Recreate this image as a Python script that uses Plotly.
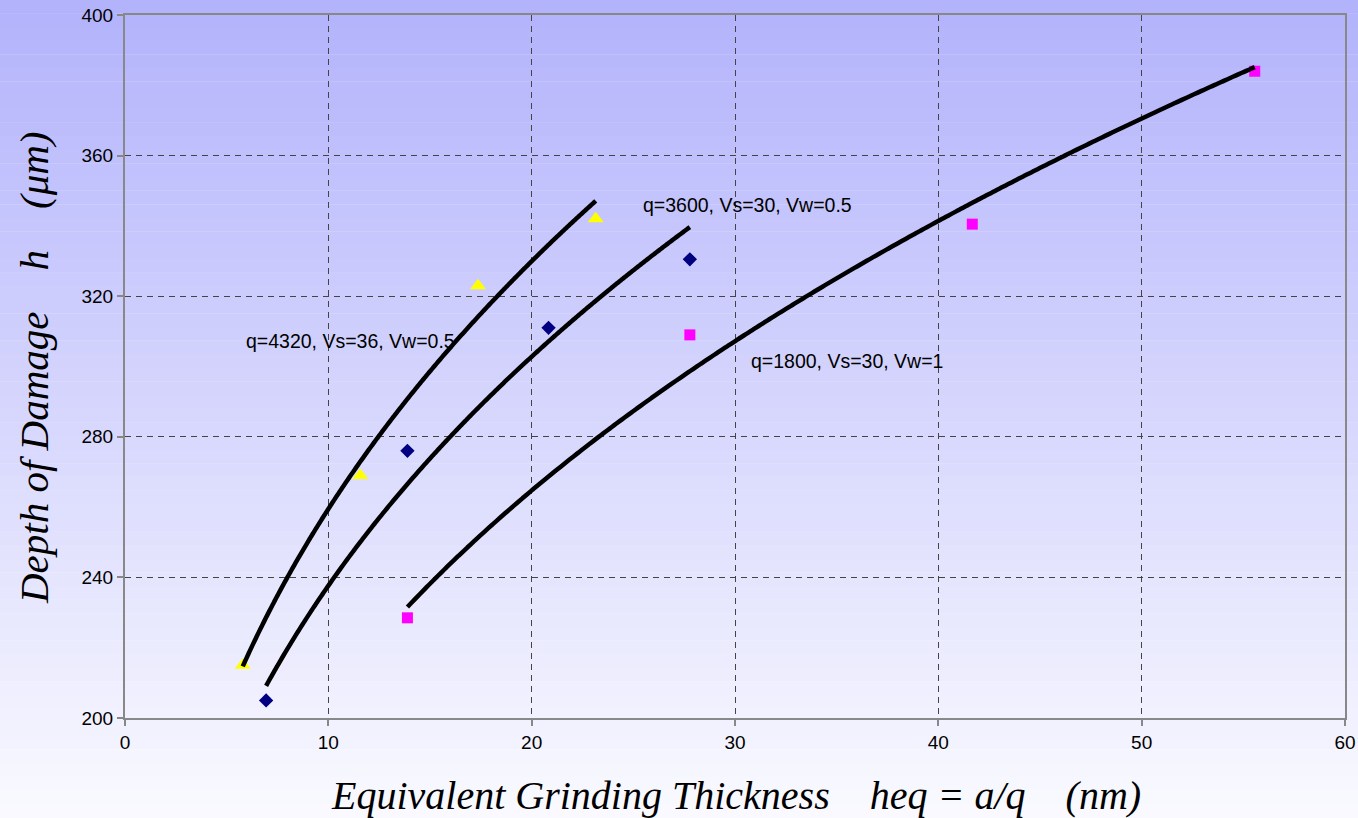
import numpy as np
import plotly.graph_objects as go

# Equivalent grinding thickness heq (nm) and depth of damage h (um)
heq_q4320 = [5.79, 11.57, 17.36, 23.15]
dmg_q4320 = [215.0, 269.0, 323.0, 342.0]

heq_q3600 = [6.94, 13.89, 20.83, 27.78]
dmg_q3600 = [205.0, 276.0, 311.0, 330.5]

heq_q1800 = [13.89, 27.78, 41.67, 55.56]
dmg_q1800 = [228.5, 309.0, 340.5, 384.0]

series_labels = ["q=4320, Vs=36, Vw=0.5", "q=3600, Vs=30, Vw=0.5", "q=1800, Vs=30, Vw=1"]

x_ticks = [0, 10, 20, 30, 40, 50, 60]
y_ticks = [200, 240, 280, 320, 360, 400]

W, H = 1358, 818
ML, MR, MT, MB = 125, 13, 15, 100
PW, PH = W - ML - MR, H - MT - MB

fig = go.Figure()


def power_fit(x, y, n=200):
    """Least-squares power trendline y = a * x^b between the first and last x."""
    lx, ly = np.log(x), np.log(y)
    b, la = np.polyfit(lx, ly, 1)
    xs = np.linspace(min(x), max(x), n)
    return xs, np.exp(la) * xs ** b


marker_styles = [
    dict(symbol="triangle-up", size=14, color="#FFFF00"),
    dict(symbol="diamond", size=11, color="#000080"),
    dict(symbol="square", size=11, color="#FF00FF"),
]
data = [(heq_q4320, dmg_q4320), (heq_q3600, dmg_q3600), (heq_q1800, dmg_q1800)]

for (xv, yv), ms in zip(data, marker_styles):
    fig.add_trace(go.Scatter(x=xv, y=yv, mode="markers",
                             marker=dict(line=dict(width=0), **ms),
                             showlegend=False, hoverinfo="x+y"))

for xv, yv in data:
    xs, ys = power_fit(np.array(xv), np.array(yv))
    fig.add_trace(go.Scatter(x=xs, y=ys, mode="lines",
                             line=dict(color="black", width=4.5, shape="spline"),
                             showlegend=False, hoverinfo="skip"))

# Vertical background gradient across the whole figure, built from bands
shapes = []
top_rgb = np.array([178, 178, 252])
bot_rgb = np.array([250, 250, 255])
n_bands = 60
for i in range(n_bands):
    p0 = i * H / n_bands
    p1 = (i + 1) * H / n_bands
    t = (i + 0.5) / n_bands
    c = (top_rgb + (bot_rgb - top_rgb) * t).round().astype(int)
    shapes.append(dict(type="rect", xref="paper", yref="paper", layer="below",
                       x0=-ML / PW - 0.01, x1=1 + MR / PW + 0.01,
                       y0=(H - MB - p1) / PH, y1=(H - MB - p0) / PH + 0.0005,
                       line=dict(width=0),
                       fillcolor=f"rgb({c[0]},{c[1]},{c[2]})"))

serif = "Liberation Serif"
sans = "Liberation Sans"
nb = "\u00a0"

annotations = [
    dict(x=11.07, y=307.3, xref="x", yref="y", text=series_labels[0], showarrow=False,
         font=dict(family=sans, size=19.5, color="black"), xanchor="center", yanchor="middle"),
    dict(x=30.6, y=346.0, xref="x", yref="y", text=series_labels[1], showarrow=False,
         font=dict(family=sans, size=19.5, color="black"), xanchor="center", yanchor="middle"),
    dict(x=35.5, y=301.6, xref="x", yref="y", text=series_labels[2], showarrow=False,
         font=dict(family=sans, size=19.5, color="black"), xanchor="center", yanchor="middle"),
    dict(x=(736 - ML) / PW, y=(H - MB - 795) / PH, xref="paper", yref="paper",
         text=f"<i>Equivalent Grinding Thickness{nb*4}heq = a/q{nb*4}(nm)</i>", showarrow=False,
         font=dict(family=serif, size=40, color="black"),
         xanchor="center", yanchor="middle"),
    dict(x=(34 - ML) / PW, y=(H - MB - 368) / PH, xref="paper", yref="paper",
         text=f"<i>Depth of Damage{nb*4}h{nb*4}(\u03bcm)</i>", showarrow=False, textangle=-90,
         font=dict(family=serif, size=41, color="black"),
         xanchor="center", yanchor="middle"),
]

axis_common = dict(
    showline=True, linecolor="#888888", linewidth=2, mirror=True,
    ticks="outside", ticklen=6, tickwidth=2, tickcolor="#888888",
    showgrid=True, gridcolor="#444444", gridwidth=1, griddash="6px,5px",
    zeroline=False, automargin=False,
    tickfont=dict(family=sans, size=19, color="black"),
)

fig.update_layout(
    width=W, height=H,
    margin=dict(l=ML, r=MR, t=MT, b=MB, autoexpand=False),
    paper_bgcolor="white", plot_bgcolor="rgba(0,0,0,0)",
    shapes=shapes, annotations=annotations,
    xaxis=dict(range=[0, 60], tickvals=x_ticks, ticktext=[str(v) for v in x_ticks], **axis_common),
    yaxis=dict(range=[200, 400], tickvals=y_ticks, ticktext=[str(v) for v in y_ticks], **axis_common),
)

fig.write_html("out.html")
